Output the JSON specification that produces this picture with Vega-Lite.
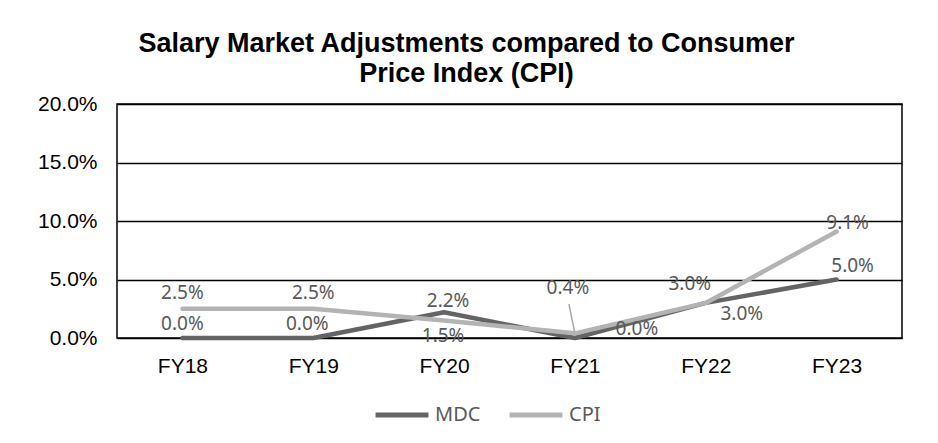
{
  "$schema": "https://vega.github.io/schema/vega-lite/v6.json",
  "width": 785,
  "height": 234,
  "autosize": "none",
  "padding": {"left": 117, "top": 104, "right": 36, "bottom": 105},
  "background": "white",
  "title": {
    "text": ["Salary Market Adjustments compared to Consumer", "Price Index (CPI)"],
    "font": "Liberation Sans",
    "fontSize": 27,
    "fontWeight": "bold",
    "color": "#000000",
    "anchor": "middle",
    "dx": -43,
    "offset": 5,
    "lineHeight": 30
  },
  "config": {
    "view": {"stroke": "#000000", "strokeWidth": 1.5},
    "text": {"font": "Noto Sans", "fontSize": 19, "color": "#595959", "align": "center", "baseline": "middle"}
  },
  "data": {
    "values": [
      {"year": "FY18", "series": "MDC", "value": 0.0},
      {"year": "FY19", "series": "MDC", "value": 0.0},
      {"year": "FY20", "series": "MDC", "value": 0.022},
      {"year": "FY21", "series": "MDC", "value": 0.0},
      {"year": "FY22", "series": "MDC", "value": 0.03},
      {"year": "FY23", "series": "MDC", "value": 0.05},
      {"year": "FY18", "series": "CPI", "value": 0.025},
      {"year": "FY19", "series": "CPI", "value": 0.025},
      {"year": "FY20", "series": "CPI", "value": 0.015},
      {"year": "FY21", "series": "CPI", "value": 0.004},
      {"year": "FY22", "series": "CPI", "value": 0.03},
      {"year": "FY23", "series": "CPI", "value": 0.091}
    ]
  },
  "encoding": {
    "x": {
      "field": "year", "type": "ordinal",
      "scale": {"type": "point", "padding": 0.5},
      "title": null,
      "axis": {"labelAngle": 0, "labelFont": "Liberation Sans", "labelFontSize": 21, "labelColor": "#000000", "ticks": false, "domain": false, "grid": false, "labelPadding": 17}
    },
    "y": {
      "field": "value", "type": "quantitative",
      "scale": {"domain": [0, 0.2], "nice": false},
      "title": null,
      "axis": {"values": [0, 0.05, 0.1, 0.15, 0.2], "format": ".1%", "labelFont": "Liberation Sans", "labelFontSize": 21, "labelColor": "#000000", "ticks": false, "domain": false, "grid": true, "gridColor": "#000000", "gridWidth": 1.3, "labelPadding": 20}
    }
  },
  "layer": [
    {
      "transform": [{"filter": "datum.series === 'CPI' && datum.year === 'FY21'"}],
      "mark": {"type": "rule", "color": "#a6a6a6", "strokeWidth": 1.5, "x2Offset": -6},
      "encoding": {"x2": {"datum": "FY21"}, "y2": {"datum": 0.029}}
    },
    {
      "transform": [{"filter": "datum.series === 'MDC'"}],
      "mark": {"type": "line", "strokeWidth": 4.5, "strokeCap": "round", "strokeJoin": "round"},
      "encoding": {
        "color": {
          "field": "series", "type": "nominal",
          "scale": {"domain": ["MDC", "CPI"], "range": ["#646464", "#b3b3b3"]},
          "legend": {"title": null, "orient": "none", "direction": "horizontal", "legendX": 256, "legendY": 282, "labelFont": "Noto Sans", "labelFontSize": 20, "labelColor": "#595959", "symbolType": "stroke", "symbolStrokeWidth": 5, "symbolSize": 2800, "labelOffset": 4, "columnPadding": 18}
        }
      }
    },
    {
      "transform": [{"filter": "datum.series === 'CPI'"}],
      "mark": {"type": "line", "strokeWidth": 4.5, "strokeCap": "round", "strokeJoin": "round"},
      "encoding": {"color": {"field": "series", "type": "nominal"}}
    },
    {"transform": [{"filter": "datum.series === 'MDC' && datum.year === 'FY18'"}], "mark": {"type": "text", "dx": 0, "dy": -14}, "encoding": {"text": {"field": "value", "format": ".1%"}}},
    {"transform": [{"filter": "datum.series === 'MDC' && datum.year === 'FY19'"}], "mark": {"type": "text", "dx": -6, "dy": -14}, "encoding": {"text": {"field": "value", "format": ".1%"}}},
    {"transform": [{"filter": "datum.series === 'MDC' && datum.year === 'FY20'"}], "mark": {"type": "text", "dx": 4, "dy": -11}, "encoding": {"text": {"field": "value", "format": ".1%"}}},
    {"transform": [{"filter": "datum.series === 'MDC' && datum.year === 'FY21'"}], "mark": {"type": "text", "dx": 62, "dy": -9}, "encoding": {"text": {"field": "value", "format": ".1%"}}},
    {"transform": [{"filter": "datum.series === 'MDC' && datum.year === 'FY22'"}], "mark": {"type": "text", "dx": 36, "dy": 11}, "encoding": {"text": {"field": "value", "format": ".1%"}}},
    {"transform": [{"filter": "datum.series === 'MDC' && datum.year === 'FY23'"}], "mark": {"type": "text", "dx": 16, "dy": -14}, "encoding": {"text": {"field": "value", "format": ".1%"}}},
    {"transform": [{"filter": "datum.series === 'CPI' && (datum.year === 'FY18' || datum.year === 'FY19')"}], "mark": {"type": "text", "dx": 0, "dy": -16}, "encoding": {"text": {"field": "value", "format": ".1%"}}},
    {"transform": [{"filter": "datum.series === 'CPI' && datum.year === 'FY20'"}], "mark": {"type": "text", "dx": -1, "dy": 16}, "encoding": {"text": {"field": "value", "format": ".1%"}}},
    {"transform": [{"filter": "datum.series === 'CPI' && datum.year === 'FY21'"}], "mark": {"type": "text", "dx": -7, "dy": -45}, "encoding": {"text": {"field": "value", "format": ".1%"}}},
    {"transform": [{"filter": "datum.series === 'CPI' && datum.year === 'FY22'"}], "mark": {"type": "text", "dx": -16, "dy": -19}, "encoding": {"text": {"field": "value", "format": ".1%"}}},
    {"transform": [{"filter": "datum.series === 'CPI' && datum.year === 'FY23'"}], "mark": {"type": "text", "dx": 11, "dy": -9}, "encoding": {"text": {"field": "value", "format": ".1%"}}}
  ]
}
